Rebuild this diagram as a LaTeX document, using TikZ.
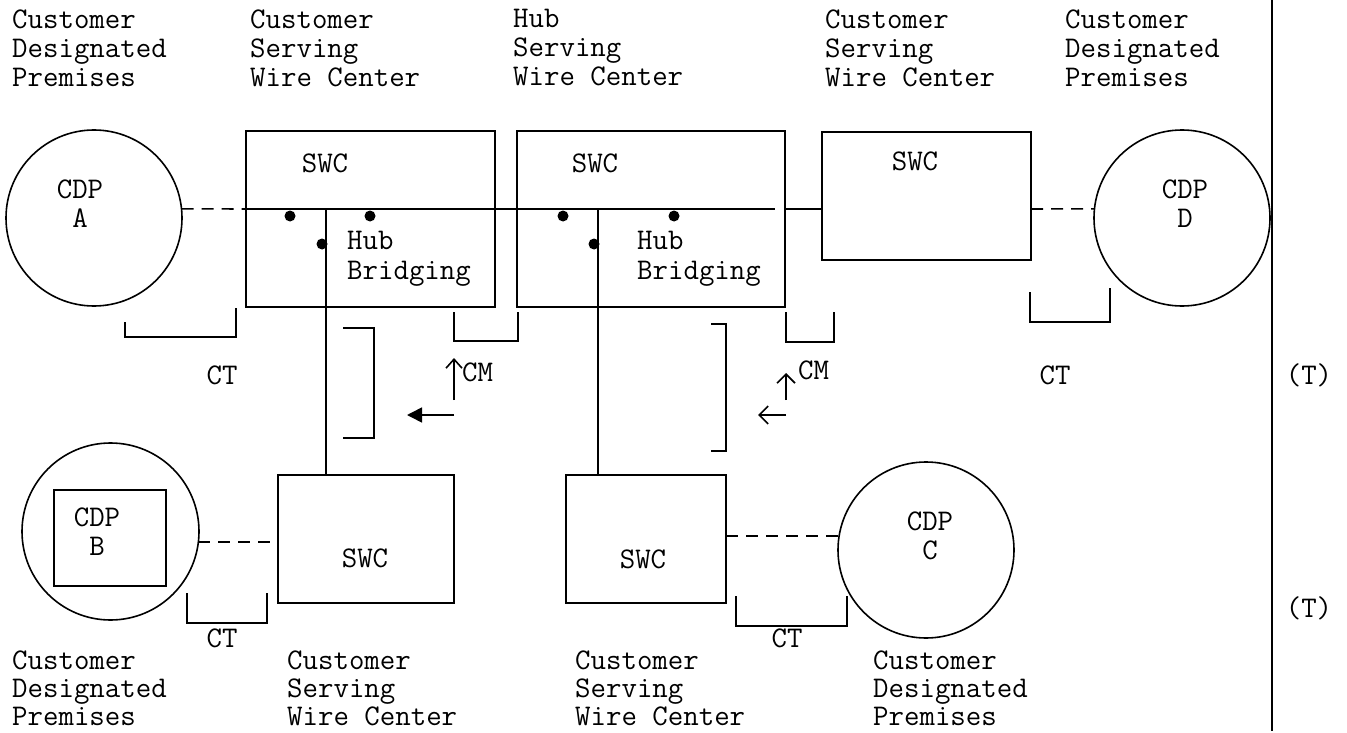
\documentclass[tikz,border=0pt]{standalone}
\usepackage{fontspec}
\usepackage{tikz}
\usetikzlibrary{arrows.meta}

\tikzset{
  txt/.style={font=\ttfamily\fontsize{30pt}{29pt}\selectfont, inner sep=0pt},
  heading/.style={txt, align=left, anchor=west},
  swcbox/.style={draw, line width=2pt, inner sep=0pt, outer sep=0pt},
  cdp/.style={draw, circle, line width=1.6pt, minimum size=176pt, inner sep=0pt, outer sep=0pt},
  dot/.style={circle, fill=black, minimum size=11pt, inner sep=0pt},
  wire/.style={line width=1.6pt},
  dashwire/.style={wire, dash pattern=on 12pt off 8pt},
  bracket/.style={line width=2pt},
  openarrow/.style={wire, -{Straight Barb[length=9pt,width=18pt,line width=1.6pt]}},
  fullarrow/.style={wire, -{Triangle[length=15pt,width=15pt]}}
}

\begin{document}
\begin{tikzpicture}[x=1pt,y=-1pt]
  \useasboundingbox (0,0) rectangle (1347,733);

  % headings, top row
  \node[heading] (hTop1) at (12,48) {Customer\\Designated\\Premises};
  \node[heading] (hTop2) at (250,48) {Customer\\Serving\\Wire Center};
  \node[heading] (hTop3) at (513,48) {Hub\\Serving\\Wire Center};
  \node[heading] (hTop4) at (825,48) {Customer\\Serving\\Wire Center};
  \node[heading] (hTop5) at (1065,48) {Customer\\Designated\\Premises};

  % headings, bottom row
  \node[heading] (hBot1) at (12,688) {Customer\\[-1pt]Designated\\[-1pt]Premises};
  \node[heading] (hBot2) at (287,688) {Customer\\[-1pt]Serving\\[-1pt]Wire Center};
  \node[heading] (hBot3) at (575,688) {Customer\\[-1pt]Serving\\[-1pt]Wire Center};
  \node[heading] (hBot4) at (873,688) {Customer\\[-1pt]Designated\\[-1pt]Premises};

  % premises
  \node[cdp] (cdpA) at (94,218) {};
  \node[cdp] (cdpD) at (1182,218) {};
  \node[cdp, minimum size=177pt] (cdpB) at (110.5,531.5) {};
  \node[cdp] (cdpC) at (926,550) {};
  \node[swcbox, minimum width=112pt, minimum height=96pt] (cdpBbox) at (110,538) {};
  \node[txt, align=center] (cdpAtxt) at (80,204) {CDP\\A};
  \node[txt, align=center] (cdpDtxt) at (1185,204) {CDP\\D};
  \node[txt, align=center] (cdpBtxt) at (97,532) {CDP\\B};
  \node[txt, align=center] (cdpCtxt) at (930,536) {CDP\\C};

  % wire centers
  \node[swcbox, minimum width=249pt, minimum height=176pt] (swc1) at (370.5,219) {};
  \node[swcbox, minimum width=268pt, minimum height=176pt] (swc2) at (651,219) {};
  \node[swcbox, minimum width=209pt, minimum height=128pt] (swc3) at (926.5,196) {};
  \node[swcbox, minimum width=176pt, minimum height=128pt] (swc4) at (366,539) {};
  \node[swcbox, minimum width=160pt, minimum height=128pt] (swc5) at (646,539) {};
  \node[txt] (swc1txt) at (325,163) {SWC};
  \node[txt] (swc2txt) at (595,163) {SWC};
  \node[txt] (swc3txt) at (915,161) {SWC};
  \node[txt] (swc4txt) at (365,558) {SWC};
  \node[txt] (swc5txt) at (643,559) {SWC};
  \node[heading, text width=140pt] (hub1txt) at (347,259) {Hub\\[1pt]Bridging};
  \node[heading, text width=140pt] (hub2txt) at (637,259) {Hub\\[1pt]Bridging};

  % bridging points
  \node[dot] (d1a) at (290,216) {};
  \node[dot] (d1b) at (370,216) {};
  \node[dot] (d1c) at (322,244) {};
  \node[dot] (d2a) at (563,216) {};
  \node[dot] (d2b) at (674,216) {};
  \node[dot] (d2c) at (594,244) {};

  % circuit
  \coordinate (busR) at (775,209);
  \coordinate (tap1) at (326,209);
  \coordinate (tap2) at (598,209);
  \draw[dashwire] (cdpA.6) -- (swc1.west |- busR);
  \draw[wire] (swc1.west |- busR) -- (busR);
  \draw[wire] (swc2.east |- busR) -- (swc3.west |- busR);
  \draw[dashwire] (swc3.east |- busR) -- (cdpD.174);
  \draw[wire] (tap1) -- (tap1 |- swc4.north);
  \draw[wire] (tap2) -- (tap2 |- swc5.north);
  \draw[dashwire] (cdpB.-7) -- (cdpB.-7 -| swc4.west);
  \draw[dashwire] (swc5.east |- cdpC.171) -- (cdpC.171);

  % brackets
  \draw[bracket] (125,322) -- (125,337) -- (236,337) -- (236,308);
  \draw[bracket] (454,312) -- (454,341) -- (518,341) -- (518,312);
  \draw[bracket] (343,328) -- (374,328) -- (374,438) -- (343,438);
  \draw[bracket] (786,312) -- (786,342) -- (834,342) -- (834,312);
  \draw[bracket] (711,324) -- (726,324) -- (726,451) -- (711,451);
  \draw[bracket] (1030,292) -- (1030,322) -- (1110,322) -- (1110,288);
  \draw[bracket] (187,593) -- (187,623) -- (267,623) -- (267,593);
  \draw[bracket] (736,596) -- (736,626) -- (847,626) -- (847,596);

  \node[txt] (ctA) at (222,375) {CT};
  \node[txt] (ctD) at (1055,375) {CT};
  \node[txt] (ctB) at (222,638) {CT};
  \node[txt] (ctC) at (787,638) {CT};

  % moves
  \coordinate (up1) at (454,400);
  \coordinate (up2) at (786,400);
  \draw[openarrow, -{Straight Barb[length=9pt,width=16pt,line width=1.6pt]}] (up1) -- ++(0,-42);
  \draw[fullarrow] (454,415) -- (407,415);
  \draw[openarrow] (up2) -- ++(0,-27);
  \draw[openarrow] (786,415) -- (758,415);
  \node[txt, anchor=west] (cm1) at (462,372) {CM};
  \node[txt, anchor=west] (cm2) at (798,370) {CM};

  % margin
  \draw[wire] (1272,0) -- (1272,731);
  \node[txt] (t1) at (1309,375) {(T)};
  \node[txt] (t2) at (1309,608) {(T)};
\end{tikzpicture}
\end{document}
